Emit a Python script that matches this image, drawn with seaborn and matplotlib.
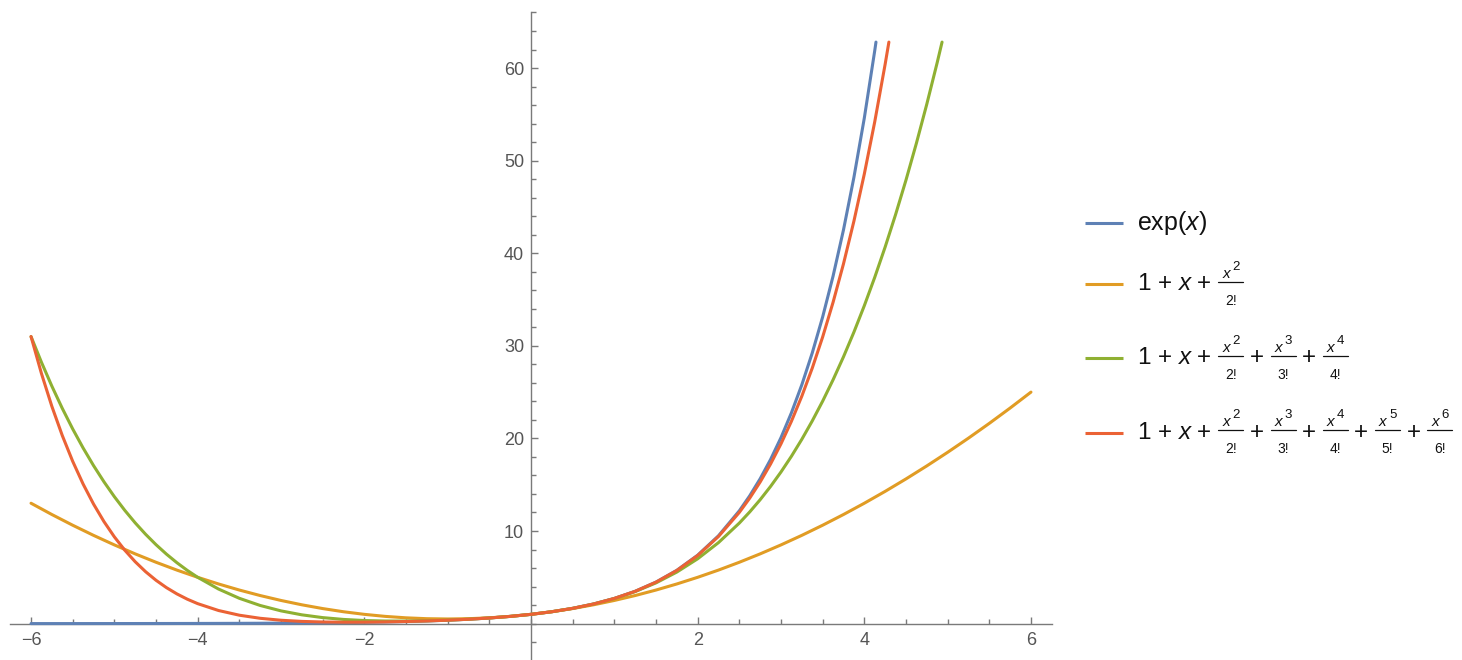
import numpy as np
import pandas as pd
import seaborn as sns
import matplotlib
matplotlib.use("Agg")
import matplotlib.pyplot as plt
from matplotlib.lines import Line2D
from matplotlib.ticker import FixedLocator, MultipleLocator
from matplotlib.offsetbox import (AnchoredOffsetbox, DrawingArea, HPacker,
                                  TextArea, VPacker)

# x grid of the samples
x_vals = [-6, -5.75, -5.5, -5.25, -5, -4.75, -4.5, -4.25, -4, -3.75, -3.5, -3.25,
          -3, -2.75, -2.5, -2.25, -2, -1.75, -1.5, -1.25, -1, -0.75, -0.5, -0.25,
          0, 0.25, 0.5, 0.75, 1, 1.25, 1.5, 1.75, 2, 2.25, 2.5, 2.75, 3, 3.25,
          3.5, 3.75, 4, 4.25, 4.5, 4.75, 5, 5.25, 5.5, 5.75, 6]

exp_y = [0.00248, 0.00318, 0.00409, 0.00525, 0.00674, 0.00865, 0.01111, 0.01426,
         0.01832, 0.02352, 0.03020, 0.03877, 0.04979, 0.06393, 0.08208, 0.10540,
         0.13534, 0.17377, 0.22313, 0.28650, 0.36788, 0.47237, 0.60653, 0.77880,
         1.0, 1.28403, 1.64872, 2.11700, 2.71828, 3.49034, 4.48169, 5.75460,
         7.38906, 9.48774, 12.18249, 15.64263, 20.08554, 25.79034, 33.11545,
         42.52108, 54.59815]
# extra samples where the curve bends fast, plus the clipped end
exp_extra_x = [2.625, 2.875, 3.125, 3.375, 3.625, 3.875, 4.125, 4.14]
exp_extra_y = [13.805, 17.725, 22.760, 29.224, 37.525, 48.183, 61.868, 62.8]

quad_y = [13.0, 11.781, 10.625, 9.531, 8.5, 7.531, 6.625, 5.781, 5.0, 4.281, 3.625,
          3.031, 2.5, 2.031, 1.625, 1.281, 1.0, 0.781, 0.625, 0.531, 0.5, 0.531,
          0.625, 0.781, 1.0, 1.281, 1.625, 2.031, 2.5, 3.031, 3.625, 4.281, 5.0,
          5.781, 6.625, 7.531, 8.5, 9.531, 10.625, 11.781, 13.0, 14.281, 15.625,
          17.031, 18.5, 20.031, 21.625, 23.281, 25.0]
quad_extra_x = []
quad_extra_y = []

p4_y = [31.0, 25.643, 21.023, 17.068, 13.708, 10.880, 8.523, 6.581, 5.0, 3.732,
        2.732, 1.959, 1.375, 0.948, 0.648, 0.451, 0.333, 0.279, 0.273, 0.307,
        0.375, 0.474, 0.607, 0.779, 1.0, 1.284, 1.648, 2.115, 2.708, 3.458, 4.398,
        5.565, 7.0, 8.748, 10.857, 13.380, 16.375, 19.901, 24.023, 28.810, 34.333,
        40.670, 47.898, 56.104]
p4_extra_x = [-5.875, -5.625, -5.375, -5.125, -4.875, -4.625, -4.375, -4.125,
              2.625, 2.875, 3.125, 3.375, 3.625, 3.875, 4.125, 4.375, 4.625,
              4.875, 4.933]
p4_extra_y = [28.225, 23.246, 18.967, 15.318, 12.232, 9.647, 7.504, 5.748,
              12.063, 14.815, 18.068, 21.884, 26.329, 31.475, 37.395, 44.167,
              51.874, 60.601, 62.8]

p6_y = [31.0, 23.461, 17.528, 12.913, 9.368, 6.682, 4.679, 3.211, 2.156, 1.415,
        0.908, 0.574, 0.363, 0.238, 0.174, 0.150, 0.156, 0.182, 0.226, 0.287,
        0.368, 0.472, 0.607, 0.779, 1.0, 1.284, 1.649, 2.117, 2.718, 3.489, 4.478,
        5.742, 7.356, 9.408, 12.010, 15.292, 19.413, 24.560, 30.953, 38.852,
        48.556, 60.409]
p6_extra_x = [-5.875, -5.625, -5.375, -5.125, -4.875, -4.625, -4.375, -4.125,
              2.625, 2.875, 3.125, 3.375, 3.625, 3.875, 4.125, 4.295]
p6_extra_y = [27.010, 20.313, 15.073, 11.021, 7.930, 5.605, 3.886, 2.638,
              13.556, 17.236, 21.845, 27.585, 34.697, 43.458, 54.190, 62.8]

# legend labels: leading text, then fraction terms x^k / k! joined by "+"
label_heads = ["exp($x$)", "1 + $x$ +", "1 + $x$ +", "1 + $x$ +"]
label_fracs = [[], ["2"], ["2", "3", "4"], ["2", "3", "4", "5", "6"]]
colors = ["#5E81B5", "#E19C24", "#8FB032", "#EB6235"]

x_ticks = [-6, -4, -2, 2, 4, 6]
y_ticks = [10, 20, 30, 40, 50, 60]

sns.set_style("white")
plt.rcParams['font.family'] = ['Liberation Sans', 'DejaVu Sans']
plt.rcParams['mathtext.fontset'] = 'custom'
plt.rcParams['mathtext.rm'] = 'Liberation Sans'
plt.rcParams['mathtext.it'] = 'Liberation Sans:italic'
plt.rcParams['mathtext.bf'] = 'Liberation Sans:bold'

fig = plt.figure(figsize=(14.62, 6.6), dpi=100)
ax = fig.add_axes([10.2 / 1462, 0.0, 1041.6 / 1462, 648 / 660])

groups = [(exp_y, exp_extra_x, exp_extra_y),
          (quad_y, quad_extra_x, quad_extra_y),
          (p4_y, p4_extra_x, p4_extra_y),
          (p6_y, p6_extra_x, p6_extra_y)]

for (ys, ex, ey), col in zip(groups, colors):
    df = pd.DataFrame({'x': list(x_vals[:len(ys)]) + list(ex),
                       'y': list(ys) + list(ey)})
    sns.lineplot(data=df, x='x', y='y', color=col, lw=2.2, sort=True,
                 estimator=None, ax=ax, legend=False, clip_on=False, zorder=3)

ax.set_xlim(-6.25, 6.25)
ax.set_ylim(-3.93, 66.05)
ax.set_xlabel('')
ax.set_ylabel('')

for side in ['top', 'right']:
    ax.spines[side].set_visible(False)
axis_col = '#7a7a7a'
for side in ['left', 'bottom']:
    ax.spines[side].set_position(('data', 0))
    ax.spines[side].set_color(axis_col)
    ax.spines[side].set_linewidth(1.0)
    ax.spines[side].set_zorder(2)

ax.xaxis.set_major_locator(FixedLocator(x_ticks))
ax.xaxis.set_minor_locator(MultipleLocator(0.5))
ax.yaxis.set_major_locator(FixedLocator(y_ticks))
ax.yaxis.set_minor_locator(MultipleLocator(2))
ax.set_xticklabels([f"\u2212{abs(t)}" if t < 0 else str(t) for t in x_ticks])
ax.set_yticklabels([str(t) for t in y_ticks])

ax.tick_params(which='both', direction='in', color=axis_col, width=1.0,
               labelcolor='#555555', labelsize=13, bottom=True, left=True)
ax.tick_params(which='major', length=5)
ax.tick_params(which='minor', length=3.4)
ax.tick_params(axis='x', pad=6)
ax.tick_params(axis='y', pad=5)

# legend built from packed text so the fractions keep Mathematica-like sizes
ink = '#111111'
exp_props = dict(size=18, color=ink)
main_props = dict(size=17.5, color=ink)
base_props = dict(size=11, color=ink)
sup_props = dict(size=9.5, color=ink)
den_props = dict(size=10, color=ink)


def frac_box(k):
    # numerator: italic x with a raised exponent
    sup = VPacker(children=[TextArea(k, textprops=sup_props),
                            DrawingArea(0, 5.4, 0, 0)], align="left", pad=0, sep=0)
    num = HPacker(children=[TextArea("$x$", textprops=base_props), sup],
                  align="bottom", pad=0, sep=0)
    den = TextArea("%s!" % k, textprops=den_props)
    bar = DrawingArea(20, 1.0, 0, 0)
    bar.add_artist(Line2D([1, 19], [0.5, 0.5], color=ink, lw=0.9))
    top = VPacker(children=[num, bar], align="center", pad=0, sep=0.4)
    return VPacker(children=[top, den], align="center", pad=0, sep=8)


rows = []
for n, (head, fracs, col) in enumerate(zip(label_heads, label_fracs, colors)):
    da = DrawingArea(27.5, 8, 0, 0)
    da.add_artist(Line2D([0, 27.5], [4, 4], color=col, lw=2.2,
                         solid_capstyle='butt'))
    parts = [TextArea(head, textprops=exp_props if n == 0 else main_props)]
    for i, k in enumerate(fracs):
        if i > 0:
            parts.append(TextArea("+", textprops=main_props))
        parts.append(frac_box(k))
    label = HPacker(children=parts, align="center", pad=0, sep=3.7)
    rows.append(HPacker(children=[da, label], align="center", pad=0, sep=10))

frac_rows = VPacker(children=rows[1:], align="left", pad=0, sep=19.8)
box = VPacker(children=[rows[0], frac_rows], align="left", pad=0, sep=17.6)
anchored = AnchoredOffsetbox(loc='upper left', child=box, pad=0, borderpad=0,
                             frameon=False,
                             bbox_to_anchor=(1085 / 1462, 1 - 208.7 / 660),
                             bbox_transform=fig.transFigure)
fig.add_artist(anchored)

fig.savefig('out.png', dpi=100)
